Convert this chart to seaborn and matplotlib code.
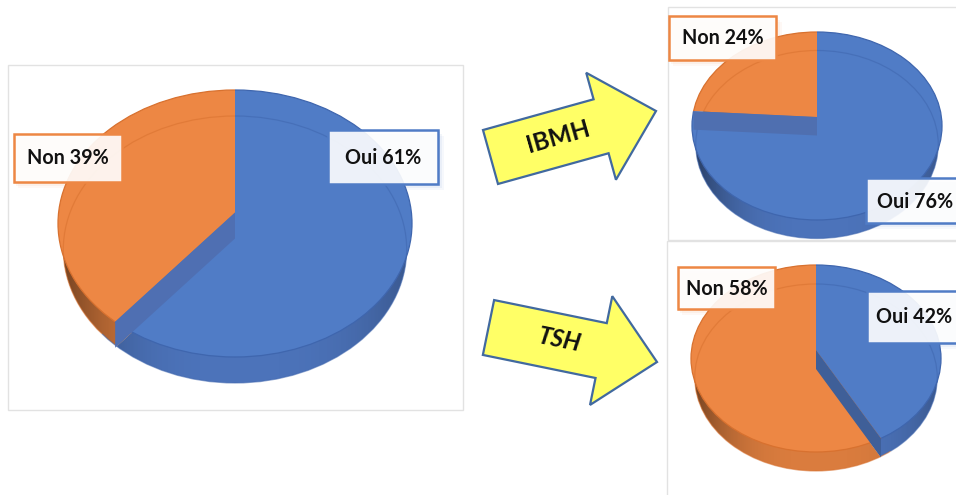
import numpy as np
import matplotlib
matplotlib.use('Agg')
import matplotlib.pyplot as plt
import seaborn as sns
from matplotlib.patches import Ellipse, FancyArrow, Rectangle

# valeurs (Oui, Non)
total_vals = [61, 39]
ibmh_vals = [76, 24]
tsh_vals = [42, 58]
labels = ['Oui', 'Non']
arrow_names = ['IBMH', 'TSH']

sns.set_theme(style='white')
plt.rcParams['font.family'] = ['Lato', 'DejaVu Sans']

W, H = 956, 495
blue, orange = sns.color_palette(['#507CC6', '#ED8744'])
side_cols = ['#4C73BA', '#DA7C3E']
line_cols = ['#3F66AE', '#D8712F']
frame_col = '#E2E2E2'

fig = plt.figure(figsize=(W / 100, H / 100), dpi=100, facecolor='white')


def px_axes(z):
    ax = fig.add_axes([0, 0, 1, 1], zorder=z)
    ax.set_xlim(0, W)
    ax.set_ylim(H, 0)
    ax.axis('off')
    ax.patch.set_alpha(0)
    return ax


back = px_axes(0)
front = px_axes(2)


def draw_pie(vals, cx, top, a, b, depth, lift, wall_col):
    # cx, top : centre et haut de l'ellipse, a, b : demi-axes en pixels
    d = depth / b
    yo = lift / b
    pad = 0.05
    ax = fig.add_axes([(cx - a * (1 + pad)) / W,
                       1 - (top + 2 * b + depth + pad * b) / H,
                       2 * a * (1 + pad) / W,
                       (2 * b + depth + 2 * pad * b) / H], zorder=1)
    ax.patch.set_alpha(0)

    # face du bas / tranche
    low_clip = Ellipse((0, -d), 1.94, 2, transform=ax.transData)
    low, _ = ax.pie(vals, colors=side_cols, startangle=90, counterclock=False,
                    radius=1.6, center=(0, yo - d), wedgeprops={'linewidth': 0})
    for w in low:
        w.set_clip_on(True)
        w.set_clip_path(low_clip)
        w.set_zorder(1)

    # degrade sombre sur les bords de la tranche
    xs = np.linspace(-1, 1, 256)
    shade = np.zeros((1, 256, 4))
    shade[0, :, 3] = np.where(xs < 0, 0.5 * (-xs) ** 3, 0.25 * xs ** 3)
    im = ax.imshow(shade, extent=(-1, 1, -1 - d, 1 - d), aspect='auto', zorder=2)
    im.set_clip_path(low_clip)

    # face du dessus
    top_clip = Ellipse((0, 0), 2, 2, transform=ax.transData)
    upper, _ = ax.pie(vals, colors=[blue, orange], startangle=90, counterclock=False,
                      radius=1.6, center=(0, yo), wedgeprops={'linewidth': 0})
    for w, lc in zip(upper, line_cols):
        w.set_clip_on(True)
        w.set_clip_path(top_clip)
        w.set_zorder(3)
        rim = Ellipse((0, 0), 2, 2, fill=False, ec=lc, lw=0.9, zorder=4)
        ax.add_patch(rim)
        rim.set_clip_path(w.get_path(), w.get_transform())
        ghost = Ellipse((0, -d), 1.94, 2, fill=False, ec=lc, lw=0.9, alpha=0.55, zorder=4)
        ax.add_patch(ghost)
        ghost.set_clip_path(w.get_path(), w.get_transform())

    # paroi interne visible a travers le dessus
    t = np.deg2rad(360 * vals[0] / sum(vals))
    dx, dy = np.sin(t), np.cos(t)
    k = yo * dy
    s = -k + np.sqrt(k ** 2 - yo ** 2 + 1)
    rx, ry = s * dx, yo + s * dy
    ax.fill([0, rx, rx, 0], [yo, ry, ry - d, yo - d], color=wall_col, lw=0, zorder=5)

    ax.set_aspect('auto')
    ax.set_xlim(-1 - pad, 1 + pad)
    ax.set_ylim(-1 - d - pad, 1 + pad)


def frame(x0, y0, x1, y1):
    back.add_patch(Rectangle((x0, y0), x1 - x0, y1 - y0, fc='white', ec=frame_col, lw=1.0))


def tag(text, val, col, x0, y0, x1, y1, tx, ty):
    for off, al in [(6, 0.05), (4, 0.07), (2, 0.1)]:
        front.add_patch(Rectangle((x0 + off - 2, y0 + off), x1 - x0 + 2, y1 - y0, fc=col, ec='none', alpha=al))
    front.add_patch(Rectangle((x0, y0), x1 - x0, y1 - y0, fc=(1, 1, 1, 0.9), ec=col, lw=1.8))
    front.text(tx, ty, f'{text} {val}%', ha='center', va='center', fontsize=14.2,
               fontweight='bold', color='#111111')


def block_arrow(x, y, dx, dy, name, tx, ty, rot, style):
    front.add_patch(FancyArrow(x, y, dx, dy, width=56, head_width=111, head_length=57,
                               length_includes_head=True, fc='#FFFF66', ec='#41699F', lw=1.6))
    front.text(tx, ty, name, rotation=rot, rotation_mode='anchor', ha='center', va='center',
               fontsize=17.5, fontweight='bold', style=style, color='#111111')


frame(8, 65, 463, 410)
frame(668, 7, 962, 240)
frame(667, 241, 962, 505)

draw_pie(total_vals, 235, 90, 177, 133.5, 26, 11, '#4F6FB2')
draw_pie(ibmh_vals, 817, 32, 125, 94, 18.5, 9, '#4F6FB0')
draw_pie(tsh_vals, 816, 265, 125, 93.5, 19, 8.5, '#3F5F98')

tag(labels[1], total_vals[1], orange, 14, 134, 122, 182, 68, 158)
tag(labels[0], total_vals[0], blue, 328, 130, 438, 184, 383, 158)
tag(labels[1], ibmh_vals[1], orange, 669, 16, 776, 60, 723, 38)
tag(labels[0], ibmh_vals[0], blue, 866, 178, 970, 223, 915, 202)
tag(labels[1], tsh_vals[1], orange, 678, 267, 775, 309, 727, 289)
tag(labels[0], tsh_vals[0], blue, 867, 291, 970, 343, 914, 317)

block_arrow(490.5, 157, 165.5, -46, arrow_names[0], 558, 137, 16, 'normal')
block_arrow(488.5, 327.5, 168.5, 34.5, arrow_names[1], 559, 340, -11.5, 'italic')

fig.savefig('out.png', dpi=100)
